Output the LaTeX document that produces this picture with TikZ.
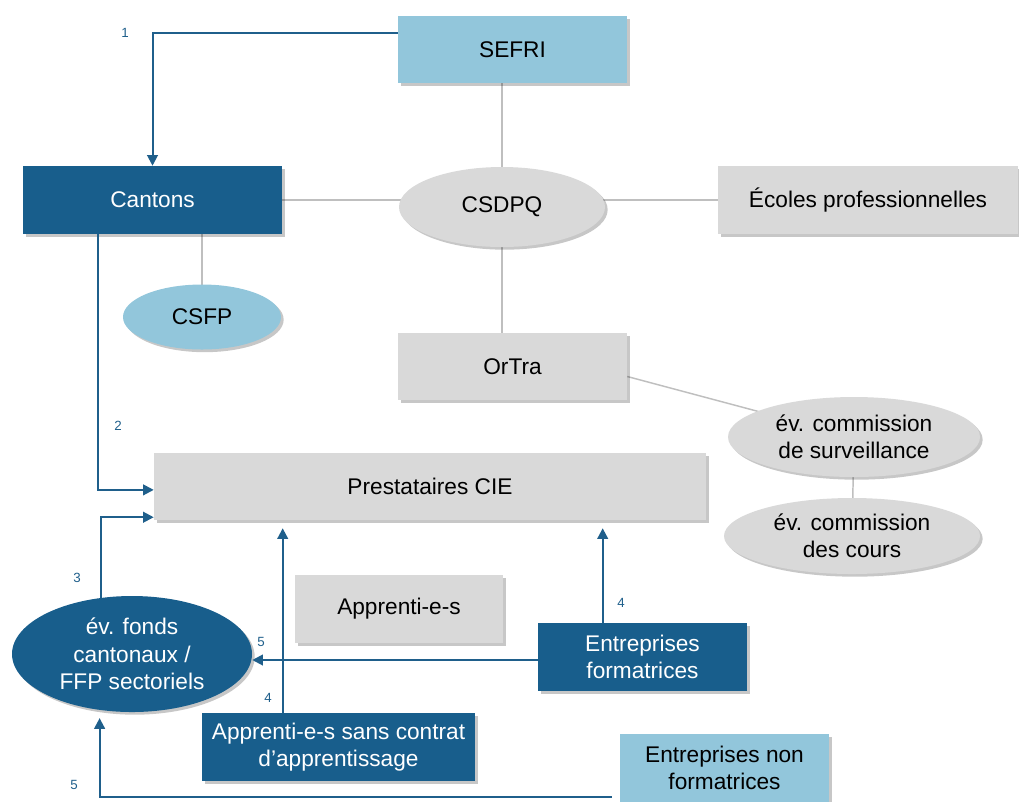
\documentclass[tikz,border=0pt]{standalone}
\usepackage{fontspec}
\setmainfont{Liberation Sans}
\usetikzlibrary{shapes.geometric,arrows.meta,shadows,calc,backgrounds}
\definecolor{dblue}{RGB}{24,94,140}
\definecolor{lblue}{RGB}{146,198,219}
\definecolor{lgray}{RGB}{217,217,217}
\definecolor{arrblue}{RGB}{31,95,139}
\definecolor{linegray}{RGB}{191,191,191}
\begin{document}
\begin{tikzpicture}[x=0.75pt,y=-0.75pt,
  base/.style={inner sep=0pt, align=center, font=\fontsize{17}{20.5}\selectfont,
    drop shadow={shadow xshift=2pt,shadow yshift=-2pt,opacity=0.22,fill=black}},
  rbox/.style={base, rectangle},
  ell/.style={base, ellipse},
  darkfill/.style={fill=dblue, text=white},
  lightfill/.style={fill=lblue, text=black},
  grayfill/.style={fill=lgray, text=black},
  conn/.style={draw=linegray, line width=1.1pt},
  arr/.style={draw=arrblue, line width=1.5pt, -{Triangle[length=8pt,width=8pt]}},
  num/.style={text=arrblue, font=\fontsize{10}{12}\selectfont, inner sep=0pt}
]
\useasboundingbox (0,0) rectangle (1019,801);

% nodes
\node[rbox,lightfill,minimum width={229*0.75pt},minimum height={67*0.75pt}] (sefri) at (512.5,49.5) {SEFRI};
\node[rbox,darkfill,minimum width={259*0.75pt},minimum height={68*0.75pt}] (cantons) at (152.5,200) {Cantons};
\node[ell,grayfill,minimum width={206*0.75pt},minimum height={80*0.75pt}] (csdpq) at (502,207) {CSDPQ};
\node[rbox,grayfill,minimum width={300*0.75pt},minimum height={68*0.75pt}] (ecoles) at (868,200) {\'Ecoles professionnelles};
\node[ell,lightfill,minimum width={158*0.75pt},minimum height={65*0.75pt}] (csfp) at (202,317) {CSFP};
\node[rbox,grayfill,minimum width={229*0.75pt},minimum height={67*0.75pt}] (ortra) at (512.5,366.5) {OrTra};
\node[rbox,grayfill,minimum width={552*0.75pt},minimum height={67*0.75pt}] (pres) at (430,486.5) {Prestataires CIE};
\node[ell,grayfill,minimum width={252*0.75pt},minimum height={80*0.75pt}] (surv) at (854,437) {\'ev. commission\\de surveillance};
\node[ell,grayfill,minimum width={256*0.75pt},minimum height={76*0.75pt}] (cours) at (852,536) {\'ev. commission\\des cours};
\node[rbox,grayfill,minimum width={208*0.75pt},minimum height={68*0.75pt}] (appr) at (399,609) {Apprenti-e-s};
\node[ell,darkfill,minimum width={240*0.75pt},minimum height={116*0.75pt}] (fonds) at (132,654) {\'ev. fonds\\cantonaux /\\FFP sectoriels};
\node[rbox,darkfill,minimum width={209*0.75pt},minimum height={68*0.75pt}] (entf) at (642.5,657) {Entreprises\\formatrices};
\node[rbox,darkfill,minimum width={273*0.75pt},minimum height={68*0.75pt}] (sans) at (338.5,747) {Apprenti-e-s sans contrat\\d'apprentissage};
\node[rbox,lightfill,minimum width={209*0.75pt},minimum height={68*0.75pt}] (entnf) at (724.5,768) {Entreprises non\\formatrices};

% gray connectors
\begin{scope}[on background layer]
\draw[conn] (sefri.south -| csdpq.north) -- (csdpq.center);
\draw[conn] (cantons.east) -- (csdpq.center |- cantons.east);
\draw[conn] (csdpq.center |- ecoles.west) -- (ecoles.west);
\draw[conn] (csdpq.center) -- (ortra.north -| csdpq.center);
\draw[conn] (cantons.south -| csfp.north) -- (csfp.center);
\draw[conn] ($(ortra.east)+(0,10)$) -- (surv.center);
\draw[conn] (surv.center) -- (cours.center);
\end{scope}

% blue arrows
\coordinate (s1) at ($(sefri.north west)!0.25!(sefri.south west)$);
\draw[arr] (s1) -| (cantons.north);
\coordinate (c2) at ($(cantons.south west)!0.29!(cantons.south east)$);
\coordinate (p2) at ($(pres.north west)!0.55!(pres.south west)$);
\draw[arr] (c2) |- (p2);
\coordinate (p3) at ($(pres.north west)!0.955!(pres.south west)$);
\draw[arr] (fonds.119) |- (p3);
\coordinate (a4) at ($(sans.north west)!0.296!(sans.north east)$);
\draw[arr, shorten >=6pt] (a4) -- (a4 |- pres.south);
\coordinate (e4) at ($(entf.north west)!0.31!(entf.north east)$);
\draw[arr, shorten >=6pt] (e4) -- (e4 |- pres.south);
\coordinate (e5) at ($(entf.west)+(0,3)$);
\draw[arr] (e5) -- (e5 -| fonds.east);
\coordinate (n5) at ($(entnf.south west)+(-8,-5)$);
\draw[arr, shorten >=6pt] (n5) -| (fonds.-120);

% labels
\node[num] (l1) at (125,33) {1};
\node[num] (l2) at (118,426) {2};
\node[num] (l3) at (77,578) {3};
\node[num] (l4a) at (268,698) {4};
\node[num] (l4b) at (621,603) {4};
\node[num] (l5a) at (261,642) {5};
\node[num] (l5b) at (74,785) {5};
\end{tikzpicture}
\end{document}
